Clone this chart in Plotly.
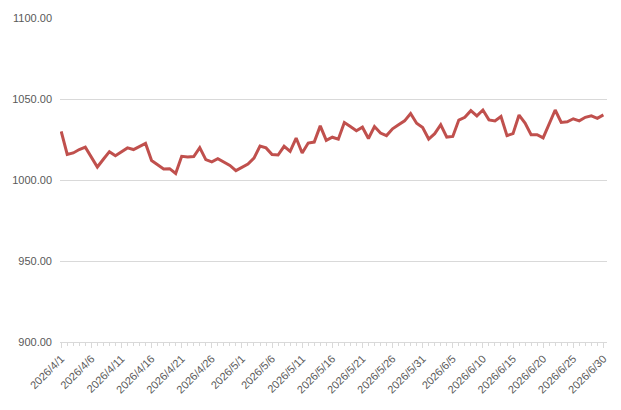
import datetime as dt
import plotly.graph_objects as go

start = dt.date(2026, 4, 1)
dates = [start + dt.timedelta(days=i) for i in range(91)]
categories = [f"{d.year}/{d.month}/{d.day}" for d in dates]

values = [
    1030, 1015.8, 1016.7, 1018.8, 1020.3, 1014, 1008, 1012.8, 1017.5, 1015,
    1017.5, 1019.8, 1018.8, 1020.8, 1022.6, 1012, 1009.6, 1006.8, 1007, 1004,
    1014.6, 1014.2, 1014.5, 1020, 1012.6, 1011.2, 1013.1, 1011.3, 1009, 1005.8,
    1008, 1009.8, 1013.5, 1021, 1019.8, 1015.7, 1015.4, 1020.8, 1017.7, 1025.9,
    1016.7, 1022.8, 1023.4, 1033.4, 1024.5, 1026.4, 1025.2, 1035.5, 1033, 1030.4,
    1032.6, 1025.6, 1033, 1029, 1027.4, 1031.6, 1034.1, 1036.5, 1041, 1035,
    1032.4, 1025.3, 1028.6, 1034.1, 1026.5, 1026.9, 1037, 1038.7, 1042.8, 1039.6,
    1043.2, 1037.1, 1036.5, 1039.2, 1027.4, 1028.6, 1040.1, 1035.1, 1028, 1028,
    1026, 1034.5, 1043.2, 1035.5, 1035.9, 1037.8, 1036.5, 1038.7, 1039.6, 1038.1,
    1040.2,
]

y_ticks = [900, 950, 1000, 1050, 1100]

x_idx = list(range(len(categories)))
major_idx = x_idx[::5]
major_labels = [categories[i] for i in major_idx]

fig = go.Figure()
fig.add_trace(go.Scatter(
    x=x_idx, y=values, mode="lines",
    line=dict(color="#C0504D", width=3),
    cliponaxis=False,
    hoverinfo="skip",
))

font_color = "#595959"
fig.update_layout(
    width=621, height=410,
    margin=dict(l=57, r=14, t=16, b=68),
    paper_bgcolor="white", plot_bgcolor="white",
    showlegend=False,
    font=dict(family="Liberation Sans, Arial, sans-serif", size=11, color=font_color),
    xaxis=dict(
        range=[-0.2, 90.6],
        tickmode="array", tickvals=major_idx, ticktext=major_labels,
        tickangle=-45,
        showgrid=False, zeroline=False,
        showline=True, linecolor="#D9D9D9", linewidth=1,
        ticks="outside", ticklen=5, tickcolor="#D9D9D9", tickwidth=1,
        minor=dict(dtick=1, tick0=0, ticks="outside", ticklen=3, tickcolor="#D9D9D9", showgrid=False),
        tickfont=dict(size=11, color=font_color),
    ),
    yaxis=dict(
        range=[900, 1100],
        tickmode="array", tickvals=y_ticks,
        tickformat=".2f",
        showgrid=True, gridcolor="#D9D9D9", gridwidth=1,
        zeroline=False, showline=False, ticks="",
        ticklabelstandoff=7,
        tickfont=dict(size=11, color=font_color),
    ),
)

fig.write_html("out.html")
